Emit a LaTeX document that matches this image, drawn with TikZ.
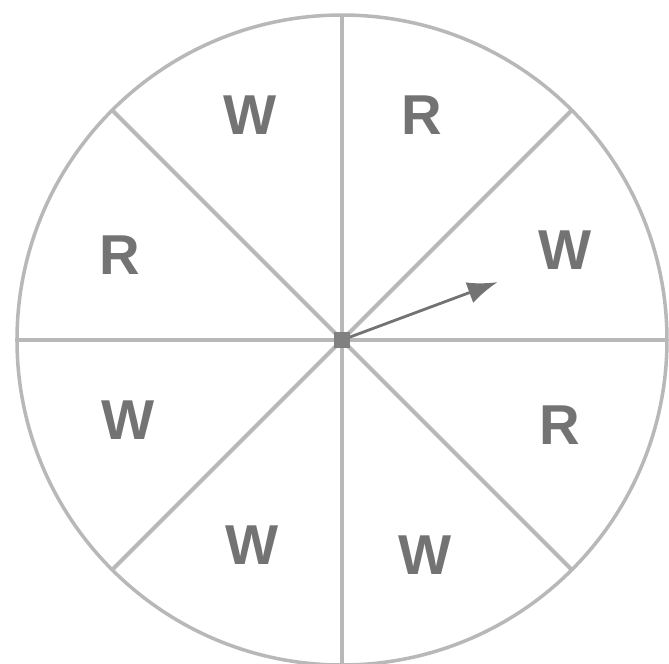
\documentclass[tikz,border=0pt]{standalone}
\usepackage{fontspec}
\setsansfont{Liberation Sans}
\usepackage{tikz}
\usetikzlibrary{arrows.meta}

\begin{document}
\begin{tikzpicture}[>={Latex[length=3mm,width=2.2mm]},
  spoke/.style={draw=black!28,line width=1.2pt},
  sector/.style={text=black!55,font=\sffamily\bfseries\fontsize{16}{16}\selectfont}]
\useasboundingbox(-3.42,-3.23)rectangle(3.27,3.40);
\draw[spoke,line width=1pt](0,0)circle(3.25);
\coordinate(c)at(0,0);
\foreach \a in {0,45,...,315}
  \draw[spoke](c)--(\a:3.25);
\node[sector](s1)at(-0.92,2.25){W};
\node[sector](s2)at(0.80,2.25){R};
\node[sector](s3)at(2.23,0.90){W};
\node[sector](s4)at(2.18,-0.85){R};
\node[sector](s5)at(0.83,-2.15){W};
\node[sector](s6)at(-0.90,-2.05){W};
\node[sector](s7)at(-2.14,-0.80){W};
\node[sector](s8)at(-2.22,0.85){R};
\coordinate(tip)at(20.4:1.66);
\draw[->,black!55,line width=0.8pt](c)--(tip);
\node[fill=black!50,inner sep=0pt,minimum size=1.6mm](hub)at(c){};
\end{tikzpicture}
\end{document}
